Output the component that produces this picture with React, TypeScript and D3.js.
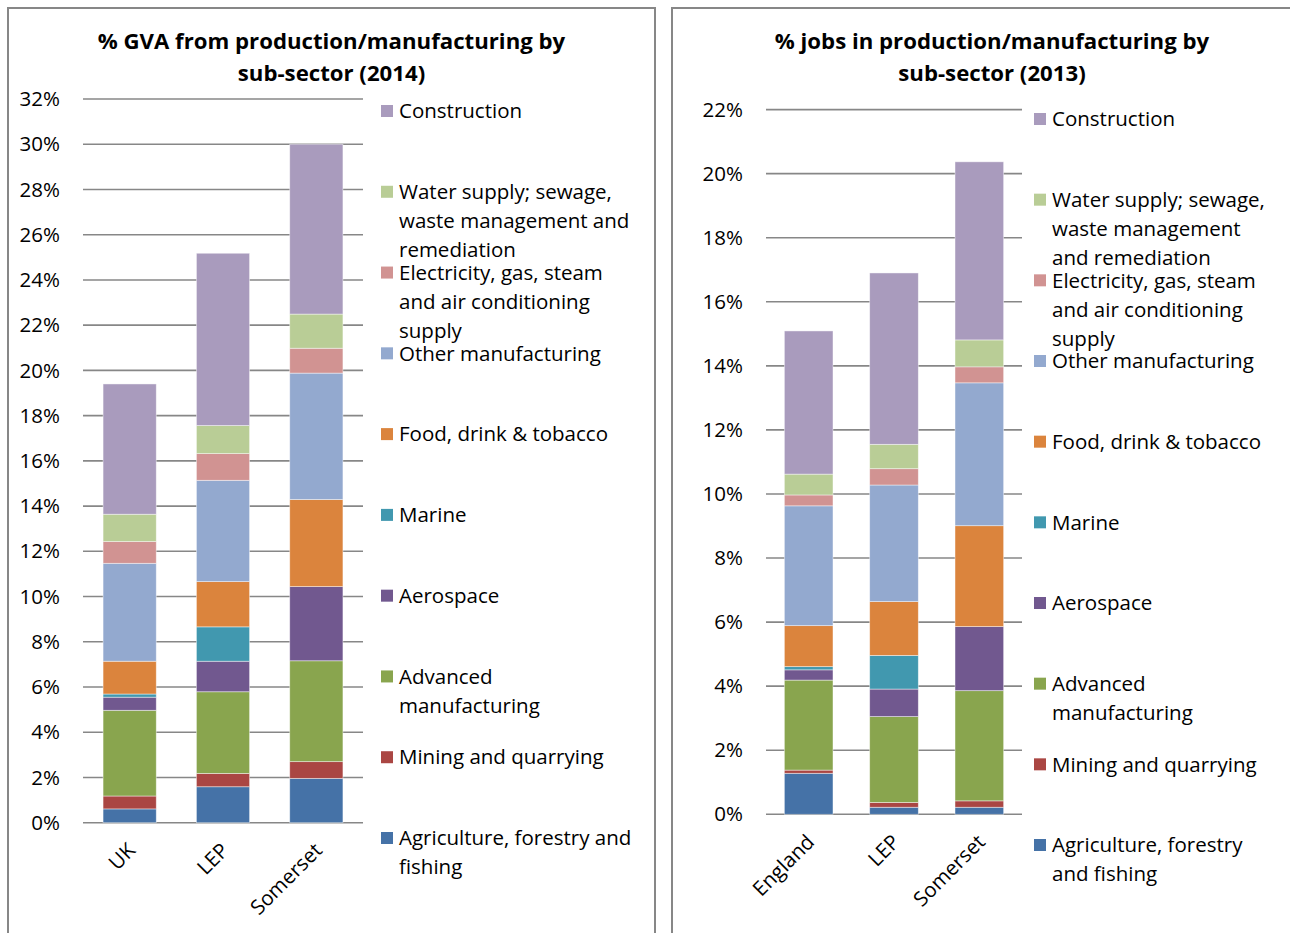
import * as d3 from "d3";

// sub-sectors, bottom → top of each stack
const SECTORS = [
  "Agriculture, forestry and fishing",
  "Mining and quarrying",
  "Advanced manufacturing",
  "Aerospace",
  "Marine",
  "Food, drink & tobacco",
  "Other manufacturing",
  "Electricity, gas, steam and air conditioning supply",
  "Water supply; sewage, waste management and remediation",
  "Construction",
];

const COLORS = [
  "#4572A7", "#AA4643", "#89A54E", "#71588F", "#4198AF",
  "#DB843D", "#93A9CF", "#D19392", "#B9CD96", "#A99BBD",
];

// chart 1: % GVA (2014)
const GVA_AREAS = ["UK", "LEP", "Somerset"];
const GVA_UK       = [0.61, 0.57, 3.79, 0.58, 0.14, 1.45, 4.33, 0.96, 1.21, 5.76];
const GVA_LEP      = [1.59, 0.59, 3.61, 1.35, 1.52, 2.00, 4.48, 1.18, 1.24, 7.62];
const GVA_SOMERSET = [1.96, 0.74, 4.46, 3.28, 0.00, 3.85, 5.59, 1.10, 1.51, 7.51];
const GVA_TICKS = [0, 2, 4, 6, 8, 10, 12, 14, 16, 18, 20, 22, 24, 26, 28, 30, 32];
const GVA_LEGEND = [
  ["Agriculture, forestry and", "fishing"],
  ["Mining and quarrying"],
  ["Advanced", "manufacturing"],
  ["Aerospace"],
  ["Marine"],
  ["Food, drink & tobacco"],
  ["Other manufacturing"],
  ["Electricity, gas, steam", "and air conditioning", "supply"],
  ["Water supply; sewage,", "waste management and", "remediation"],
  ["Construction"],
];

// chart 2: % jobs (2013)
const JOB_AREAS = ["England", "LEP", "Somerset"];
const JOB_ENGLAND  = [1.28, 0.10, 2.81, 0.32, 0.10, 1.28, 3.74, 0.34, 0.65, 4.47];
const JOB_LEP      = [0.22, 0.15, 2.68, 0.86, 1.05, 1.68, 3.64, 0.51, 0.76, 5.35];
const JOB_SOMERSET = [0.22, 0.20, 3.44, 2.00, 0.00, 3.15, 4.46, 0.50, 0.84, 5.56];
const JOB_TICKS = [0, 2, 4, 6, 8, 10, 12, 14, 16, 18, 20, 22];
const JOB_LEGEND = [
  ["Agriculture, forestry", "and fishing"],
  ["Mining and quarrying"],
  ["Advanced", "manufacturing"],
  ["Aerospace"],
  ["Marine"],
  ["Food, drink & tobacco"],
  ["Other manufacturing"],
  ["Electricity, gas, steam", "and air conditioning", "supply"],
  ["Water supply; sewage,", "waste management", "and remediation"],
  ["Construction"],
];

const FONT = "'Open Sans', sans-serif";
const GRID = "#878787";
const FS = 20.5;

interface PanelProps {
  box: [number, number, number, number];
  title: string[];
  areas: string[];
  series: number[][];
  ticks: number[];
  x0: number; x1: number;
  yZero: number; yTop: number;
  legend: string[][];
  legendX: number;
  legendTop: number;
  legendBottom: number;
}

function Panel(p: PanelProps) {
  const [bx, by, bw, bh] = p.box;
  const x = d3.scaleBand().domain(p.areas).range([p.x0, p.x1])
    .paddingInner(0.43).paddingOuter(0.215);
  const y = d3.scaleLinear().domain([0, p.ticks[p.ticks.length - 1]]).range([p.yZero, p.yTop]);

  // one row per area, keyed by sector name
  const rows = p.areas.map((a, i) => {
    const r: Record<string, number | string> = { area: a };
    SECTORS.forEach((s, j) => (r[s] = p.series[i][j]));
    return r;
  });
  const stacked = d3.stack<Record<string, number | string>>().keys(SECTORS)(rows as any);

  // legend rows: top entry = last sector
  const ly = d3.scaleLinear().domain([SECTORS.length - 1, 0]).range([p.legendTop, p.legendBottom]);
  const cx = bx + bw / 2;

  return (
    <g>
      <rect x={bx} y={by} width={bw} height={bh} fill="#fff" stroke={GRID} strokeWidth={2} />
      {p.title.map((t, i) => (
        <text key={t} x={cx} y={41 + i * 32} dy="0.35em" textAnchor="middle"
          fontSize={22.2} fontWeight="bold" fill="#000">{t}</text>
      ))}

      {p.ticks.map((t) => (
        <g key={t}>
          <line x1={p.x0} x2={p.x1} y1={y(t)} y2={y(t)} stroke={GRID} strokeWidth={1.6} />
          <text x={p.x0 - 23} y={y(t)} dy="0.35em" textAnchor="end" fontSize={FS} fill="#000">
            {t}%
          </text>
        </g>
      ))}

      {stacked.map((layer, j) => (
        <g key={SECTORS[j]} fill={COLORS[j]}>
          {layer.map((d, i) => {
            const h = y(d[0]) - y(d[1]);
            if (h <= 0) return null;
            return (
              <rect key={p.areas[i]} x={x(p.areas[i])} y={y(d[1])}
                width={x.bandwidth()} height={h}
                stroke="rgba(255,255,255,0.55)" strokeWidth={0.8} />
            );
          })}
        </g>
      ))}

      {p.areas.map((a) => {
        const tx = (x(a) ?? 0) + x.bandwidth() / 2 + 7;
        const ty = p.yZero + 29;
        return (
          <text key={a} x={tx} y={ty} textAnchor="end" fontSize={FS} fill="#000"
            transform={`rotate(-45 ${tx} ${ty})`}>{a}</text>
        );
      })}

      {p.legend.map((lines, j) => (
        <g key={j}>
          <rect x={p.legendX} y={ly(j) - 6} width={12} height={12} fill={COLORS[j]} />
          {lines.map((l, k) => (
            <text key={k} x={p.legendX + 18} y={ly(j) + k * 29} dy="0.35em"
              fontSize={FS} fill="#000">{l}</text>
          ))}
        </g>
      ))}
    </g>
  );
}

export default function App() {
  return (
    <svg width={1290} height={933} viewBox="0 0 1290 933"
      style={{ position: "absolute", left: 0, top: 0, fontFamily: FONT, background: "#fff" }}>
      <Panel
        box={[8, 8, 647, 940]}
        title={["% GVA from production/manufacturing by", "sub-sector (2014)"]}
        areas={GVA_AREAS}
        series={[GVA_UK, GVA_LEP, GVA_SOMERSET]}
        ticks={GVA_TICKS}
        x0={83} x1={363} yZero={822.7} yTop={99}
        legend={GVA_LEGEND} legendX={381} legendTop={111} legendBottom={838}
      />
      <Panel
        box={[672, 8, 640, 940]}
        title={["% jobs in production/manufacturing by", "sub-sector (2013)"]}
        areas={JOB_AREAS}
        series={[JOB_ENGLAND, JOB_LEP, JOB_SOMERSET]}
        ticks={JOB_TICKS}
        x0={766} x1={1022} yZero={814.3} yTop={109.6}
        legend={JOB_LEGEND} legendX={1034} legendTop={119} legendBottom={845}
      />
    </svg>
  );
}
